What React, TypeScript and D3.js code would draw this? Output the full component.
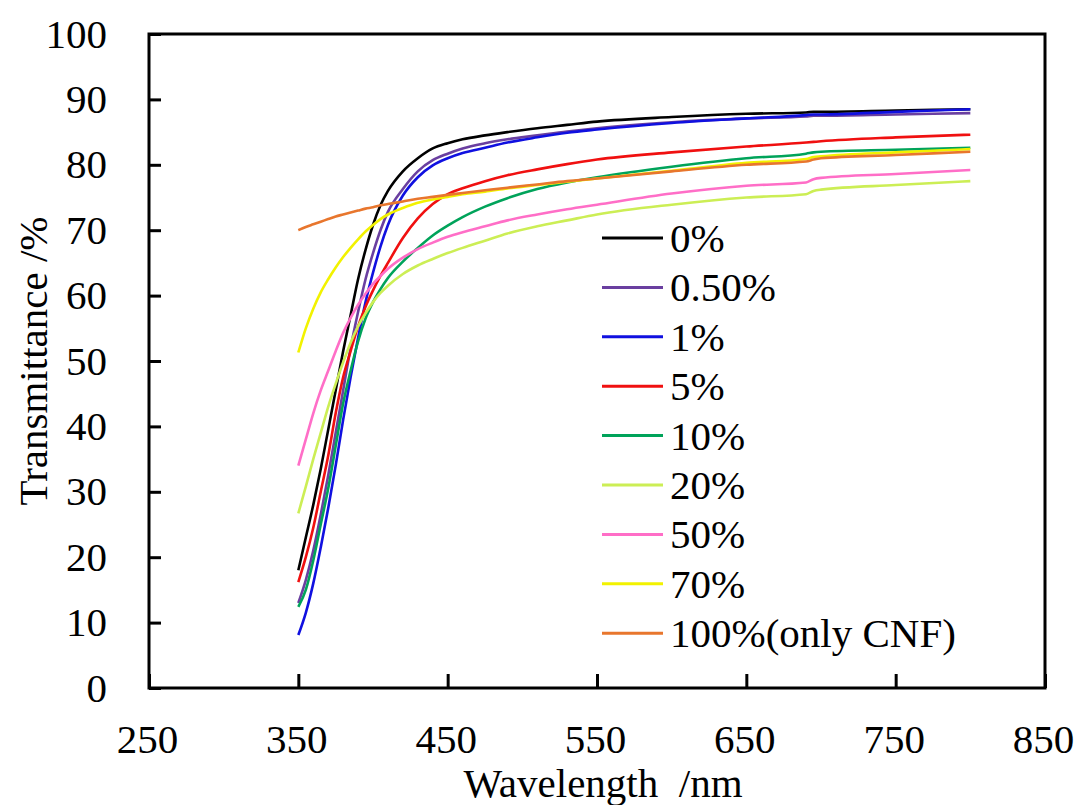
import * as d3 from 'd3';
import React, { useEffect, useRef } from 'react';

// wavelengths (nm) shared by every series
const wavelengths = [350, 355, 360, 365, 370, 375, 380, 385, 390, 395, 400, 405, 410, 420, 430, 440, 450, 460, 475, 490, 510, 530, 550, 600, 650, 690, 695, 700, 750, 800];

const t0 = [18, 23, 28, 33.5, 39.5, 45.5, 51.5, 57, 62.5, 67, 70.8, 73.8, 76, 79, 81, 82.5, 83.3, 83.9, 84.5, 85, 85.6, 86.1, 86.6, 87.3, 87.8, 88, 88.1, 88.1, 88.3, 88.5];
const t05 = [13, 16.5, 21, 26.5, 32.5, 39, 45.5, 52, 57.5, 62.5, 66.5, 70, 72.8, 76.3, 79, 80.7, 81.7, 82.5, 83.3, 83.9, 84.5, 85.1, 85.6, 86.5, 87.1, 87.4, 87.5, 87.5, 87.7, 87.9];
const t1 = [8.1, 11.5, 16, 21.5, 27.5, 34, 41, 47.5, 53.5, 59, 63.5, 67.5, 70.8, 75.3, 78.1, 79.9, 81, 81.8, 82.6, 83.4, 84.2, 84.9, 85.4, 86.4, 87.1, 87.6, 87.7, 87.7, 88.1, 88.5];
const t5 = [16.2, 20, 24.5, 30, 35.5, 42, 47.5, 51.5, 55.3, 58.3, 60.8, 63, 65, 68.8, 71.8, 74, 75.5, 76.4, 77.5, 78.4, 79.3, 80.1, 80.8, 81.9, 82.8, 83.4, 83.5, 83.6, 84.2, 84.6];
const t10 = [12.4, 15, 19.5, 25, 30.5, 37, 43.5, 48.5, 53, 56.5, 59, 61, 62.7, 65.2, 67.3, 69.2, 70.7, 72, 73.6, 74.9, 76.3, 77.3, 78.1, 79.7, 81, 81.7, 81.9, 82, 82.3, 82.6];
const t20 = [26.7, 30.8, 35, 39, 43, 46.5, 49.8, 52.8, 55.3, 57.3, 59, 60.4, 61.5, 63.3, 64.6, 65.6, 66.5, 67.3, 68.4, 69.5, 70.6, 71.5, 72.4, 73.9, 75, 75.5, 76, 76.2, 76.9, 77.5];
const t50 = [34, 38, 42, 45.5, 48.5, 51.5, 54.3, 56.6, 58.6, 60.3, 61.8, 63, 64.1, 65.8, 67.1, 68.1, 69, 69.7, 70.6, 71.5, 72.4, 73.2, 73.9, 75.6, 76.8, 77.3, 77.8, 78, 78.6, 79.2];
const t70 = [51.3, 55, 58, 60.5, 62.5, 64.3, 65.9, 67.3, 68.6, 69.8, 70.8, 71.7, 72.4, 73.4, 74.2, 74.7, 75.1, 75.5, 75.9, 76.4, 76.9, 77.4, 77.9, 79.1, 80.3, 80.9, 81.2, 81.3, 81.9, 82.4];
const t100 = [70, 70.5, 70.9, 71.3, 71.7, 72.1, 72.4, 72.7, 73, 73.3, 73.5, 73.8, 74, 74.4, 74.8, 75.1, 75.4, 75.7, 76.1, 76.5, 77, 77.5, 77.9, 79, 80, 80.5, 80.8, 81, 81.5, 82];

const seriesNames = ['0%', '0.50%', '1%', '5%', '10%', '20%', '50%', '70%', '100%(only CNF)'];
const seriesValues = [t0, t05, t1, t5, t10, t20, t50, t70, t100];
const seriesColors = ['#000000', '#6a3fa0', '#1010e0', '#f01010', '#00a35a', '#ccee55', '#ff6ec7', '#f2f200', '#e8762d'];

const xTicks = [250, 350, 450, 550, 650, 750, 850];
const yTicks = [0, 10, 20, 30, 40, 50, 60, 70, 80, 90, 100];

const serif = 'Liberation Serif, DejaVu Serif, serif';

const App = () => {
  const ref = useRef(null);

  useEffect(() => {
    const margin = { top: 34, right: 36, bottom: 117, left: 149 },
      width = 1081 - margin.left - margin.right,
      height = 805 - margin.top - margin.bottom;

    const root = d3.select(ref.current);
    root.selectAll('*').remove();

    const svg = root.append('g')
      .attr('transform', `translate(${margin.left},${margin.top})`);

    const x = d3.scaleLinear().domain([250, 850]).range([0, width]);
    const y = d3.scaleLinear().domain([0, 100]).range([height, 0]);

    // x axis, ticks pointing inward
    svg.append('g')
      .attr('transform', `translate(0,${height})`)
      .call(d3.axisBottom(x).tickValues(xTicks).tickSizeInner(-14).tickSizeOuter(0))
      .attr('font-family', null).attr('font-size', null)
      .call(g => g.select('.domain').remove())
      .call(g => g.selectAll('.tick line').attr('stroke', '#000').attr('stroke-width', 3))
      .call(g => g.selectAll('.tick text')
        .attr('y', 65).attr('dy', null).attr('x', -2)
        .style('font-size', '41px').style('font-family', serif).attr('fill', '#000'));

    // y axis
    svg.append('g')
      .call(d3.axisLeft(y).tickValues(yTicks).tickSizeInner(-12).tickSizeOuter(0))
      .attr('font-family', null).attr('font-size', null)
      .call(g => g.select('.domain').remove())
      .call(g => g.selectAll('.tick line').attr('stroke', '#000').attr('stroke-width', 3))
      .call(g => g.selectAll('.tick text')
        .attr('x', -42)
        .style('font-size', '41px').style('font-family', serif).attr('fill', '#000'));

    // frame
    svg.append('rect')
      .attr('width', width)
      .attr('height', height)
      .attr('fill', 'none')
      .attr('stroke', '#000')
      .attr('stroke-width', 3);

    const line = d3.line()
      .curve(d3.curveMonotoneX)
      .x((d, i) => x(wavelengths[i]))
      .y(d => y(d));

    svg.append('g')
      .selectAll('path')
      .data(seriesValues)
      .join('path')
      .attr('fill', 'none')
      .attr('stroke', (d, i) => seriesColors[i])
      .attr('stroke-width', 2.6)
      .attr('d', d => line(d));

    // legend
    const legend = root.append('g');
    const rows = legend.selectAll('g')
      .data(seriesNames)
      .join('g')
      .attr('transform', (d, i) => `translate(602,${238 + i * 49.4})`);
    rows.append('line')
      .attr('x1', 0).attr('x2', 61)
      .attr('stroke', (d, i) => seriesColors[i])
      .attr('stroke-width', 3);
    rows.append('text')
      .attr('x', 68).attr('y', 14)
      .style('font-size', '41px').style('font-family', serif)
      .text(d => d);

    // axis titles
    root.append('text')
      .attr('x', 603).attr('y', 797)
      .attr('text-anchor', 'middle')
      .style('font-size', '41px').style('font-family', serif)
      .style('white-space', 'pre')
      .text('Wavelength  /nm');

    root.append('text')
      .attr('transform', 'translate(47,361) rotate(-90)')
      .attr('text-anchor', 'middle')
      .style('font-size', '41px').style('font-family', serif)
      .text('Transmittance /%');
  }, []);

  return (
    <svg ref={ref} width={1081} height={805}
      style={{ position: 'absolute', left: 0, top: 0, background: '#fff' }} />
  );
};

export default App;
